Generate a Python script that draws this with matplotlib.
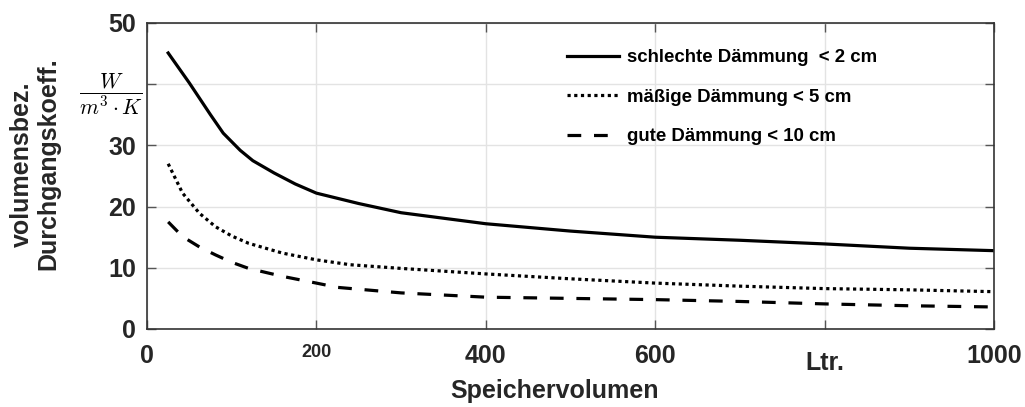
import matplotlib
matplotlib.use("Agg")
import matplotlib.pyplot as plt
from matplotlib.transforms import ScaledTranslation

# ---- data ----
x_bad = [25, 50, 75, 90, 100, 110, 125, 150, 175, 200, 250, 300, 400, 500, 600, 700, 800, 900, 1000]
y_bad = [45.1, 40.2, 35.0, 32.0, 30.6, 29.2, 27.5, 25.5, 23.7, 22.2, 20.5, 19.0, 17.2, 16.0, 15.0, 14.5, 13.9, 13.2, 12.8]

x_mid = [25, 42, 62, 81, 100, 120, 160, 200, 240, 300, 400, 500, 600, 700, 800, 900, 1000]
y_mid = [27.0, 22.2, 18.9, 16.7, 15.2, 14.0, 12.4, 11.3, 10.5, 9.9, 9.0, 8.2, 7.5, 7.0, 6.6, 6.4, 6.1]

x_good = [25, 42, 62, 81, 100, 120, 160, 200, 225, 300, 400, 500, 600, 700, 800, 900, 1000]
y_good = [17.5, 15.1, 13.4, 12.1, 10.9, 9.9, 8.6, 7.5, 6.8, 5.9, 5.2, 5.0, 4.8, 4.5, 4.1, 3.8, 3.6]

labels = ["schlechte Dämmung  < 2 cm", "mäßige Dämmung < 5 cm", "gute Dämmung < 10 cm"]

xticks = [0, 200, 400, 600, 800, 1000]
xticklabels = ["0", "200", "400", "600", "Ltr.", "1000"]
yticks = [0, 10, 20, 30, 40, 50]
yticklabels = ["0", "10", "20", "30", r"$\dfrac{W}{m^3\cdot K}$", "50"]

# ---- style ----
plt.rcParams['font.family'] = ['Liberation Sans', 'DejaVu Sans']
plt.rcParams['mathtext.fontset'] = 'cm'
tc = '#262626'

fig = plt.figure(figsize=(10.25, 4.07), dpi=100)
W, H = 1025, 407
ax = fig.add_axes([147 / W, 1 - 329 / H, (994 - 147) / W, (329 - 23) / H])

ax.plot(x_bad, y_bad, color='black', lw=2.3, ls='-', label=labels[0])
ax.plot(x_mid, y_mid, color='black', lw=2.3, ls=(0, (1, 1.1)), label=labels[1])
ax.plot(x_good, y_good, color='black', lw=2.3, ls=(0, (4.3, 4.0)), label=labels[2])

ax.set_xlim(0, 1000)
ax.set_ylim(0, 50)
ax.set_xticks(xticks)
ax.set_xticklabels(xticklabels)
ax.set_yticks(yticks)
ax.set_yticklabels(yticklabels)

ax.grid(True, color='#e3e3e3', lw=1.0)
ax.set_axisbelow(True)
for s in ax.spines.values():
    s.set_color('#333333')
    s.set_linewidth(1.2)

ax.tick_params(direction='in', length=6.5, width=1.0, color='#555555',
               top=True, right=True, labelsize=18, labelcolor=tc)
ax.tick_params(axis='x', pad=11)
ax.tick_params(axis='y', pad=8)
for lab in ax.get_xticklabels() + ax.get_yticklabels():
    lab.set_fontweight('bold')

xl = ax.get_xticklabels()
xl[1].set_fontsize(13)
xl[4].set_transform(xl[4].get_transform() + ScaledTranslation(0, -5 / 72, fig.dpi_scale_trans))
yl = ax.get_yticklabels()
yl[4].set_fontsize(15.5)
yl[4].set_fontweight('normal')
yl[4].set_color('black')
yl[4].set_transform(yl[4].get_transform() + ScaledTranslation(5 / 72, 0, fig.dpi_scale_trans))

fig.text(35 / W, 1 - 164 / H, "volumensbez.\nDurchgangskoeff.", rotation=90,
         ha='center', va='center', multialignment='center', fontsize=18,
         fontweight='bold', color=tc, linespacing=1.1)
fig.text(555 / W, 1 - 391 / H, "Speichervolumen", ha='center', va='center',
         fontsize=18, fontweight='bold', color=tc)

leg = ax.legend(loc='upper left', bbox_to_anchor=(567 / W, 1 - 49 / H),
                bbox_transform=fig.transFigure, frameon=False,
                prop={'family': 'Liberation Sans', 'weight': 'bold', 'size': 13.4},
                handlelength=2.8, handletextpad=0.45, labelspacing=1.22,
                borderpad=0, borderaxespad=0)

fig.savefig("out.png", dpi=100)
